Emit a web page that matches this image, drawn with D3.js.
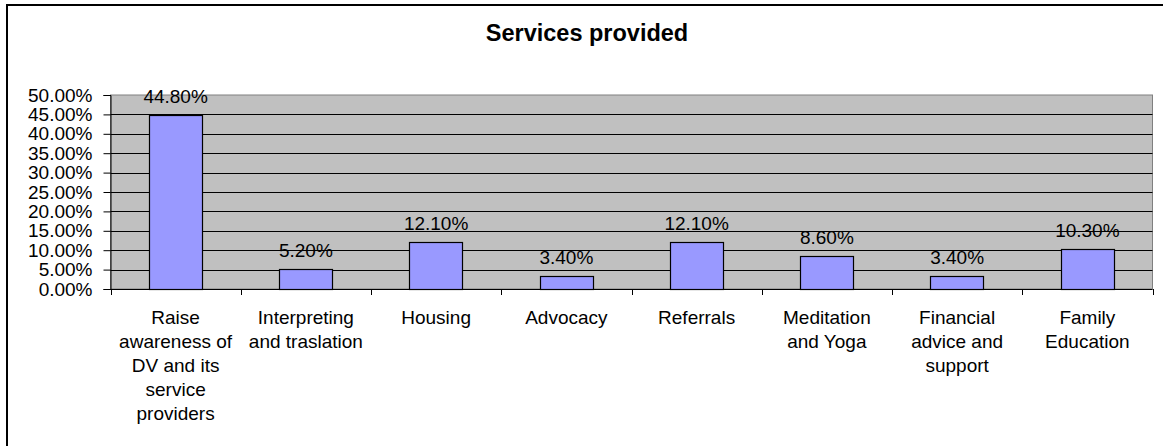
<!DOCTYPE html>
<html><head><meta charset="utf-8">
<script src="https://cdn.jsdelivr.net/npm/d3@7"></script>
<style>body{margin:0;background:#fff}svg{display:block}text{font-family:"Liberation Sans",Arial,sans-serif}</style>
</head><body>
<svg id="c" width="1163" height="446"></svg>
<script>
const title = "Services provided";
const categories = ["Raise\nawareness of\nDV and its\nservice\nproviders","Interpreting\nand traslation","Housing","Advocacy","Referrals","Meditation\nand Yoga","Financial\nadvice and\nsupport","Family\nEducation"];
const values = [44.8, 5.2, 12.1, 3.4, 12.1, 8.6, 3.4, 10.3];
const yTicks = [0,5,10,15,20,25,30,35,40,45,50];

const svg = d3.select("#c");
const m = {left:110.5, right:1152.5, top:95, bottom:289};
svg.append("rect").attr("x",7).attr("y",5).attr("width",1300).attr("height",600)
  .attr("fill","#fff").attr("stroke","#000").attr("stroke-width",2);

svg.append("text").attr("x",587).attr("y",41).attr("text-anchor","middle")
  .attr("font-weight","bold").attr("font-size",23.5).text(title);

const x = d3.scaleBand().domain(d3.range(categories.length)).range([m.left,m.right]);
const y = d3.scaleLinear().domain([0,50]).range([m.bottom,m.top]);

svg.append("rect").attr("x",m.left).attr("y",m.top).attr("width",m.right-m.left).attr("height",m.bottom-m.top)
  .attr("fill","#C0C0C0").attr("stroke","#808080").attr("stroke-width",1);

svg.append("g").selectAll("line").data(yTicks.filter(t=>t>0&&t<50)).join("line")
  .attr("x1",m.left).attr("x2",m.right).attr("y1",d=>Math.round(y(d))+0.5).attr("y2",d=>Math.round(y(d))+0.5)
  .attr("stroke","#000").attr("stroke-width",1);

const bw = x.bandwidth()*0.41;
svg.append("g").selectAll("rect").data(values).join("rect")
  .attr("x",(d,i)=>Math.round(x(i)+x.bandwidth()/2-bw/2)+0.5)
  .attr("y",d=>Math.round(y(d))+0.5)
  .attr("width",Math.round(bw))
  .attr("height",d=>Math.round(y(0))-Math.round(y(d)))
  .attr("fill","#9999FF").attr("stroke","#000").attr("stroke-width",1.2);

const fs = 19;
const ya = svg.append("g").attr("transform",`translate(${m.left},0)`)
  .call(d3.axisLeft(y).tickValues(yTicks).tickSize(7).tickPadding(11).tickFormat(d=>d.toFixed(2)+"%"));
ya.select(".domain").attr("stroke","#000");
ya.selectAll("text").attr("font-size",fs).attr("font-family","Liberation Sans, Arial").attr("fill","#000");

const xa = svg.append("g").attr("transform",`translate(0,${m.bottom})`);
xa.append("line").attr("x1",m.left).attr("x2",m.right).attr("y1",0.5).attr("y2",0.5).attr("stroke","#000");
xa.selectAll("line.t").data(d3.range(categories.length+1)).join("line").attr("class","t")
  .attr("x1",i=>Math.round(m.left+i*x.step())+0.5).attr("x2",i=>Math.round(m.left+i*x.step())+0.5)
  .attr("y1",0).attr("y2",6).attr("stroke","#000");

const cl = svg.append("g").selectAll("text").data(categories).join("text")
  .attr("text-anchor","middle").attr("font-size",fs).attr("fill","#000");
cl.each(function(d,i){
  const t = d3.select(this);
  d.split("\n").forEach((ln,k)=>{
    t.append("tspan").attr("x",x(i)+x.bandwidth()/2).attr("y",324+k*24).text(ln);
  });
});

svg.append("g").selectAll("text").data(values).join("text")
  .attr("x",(d,i)=>x(i)+x.bandwidth()/2).attr("y",d=>y(d)-12)
  .attr("text-anchor","middle").attr("font-size",fs).attr("fill","#000")
  .text(d=>d.toFixed(2)+"%");
</script>
</body></html>
